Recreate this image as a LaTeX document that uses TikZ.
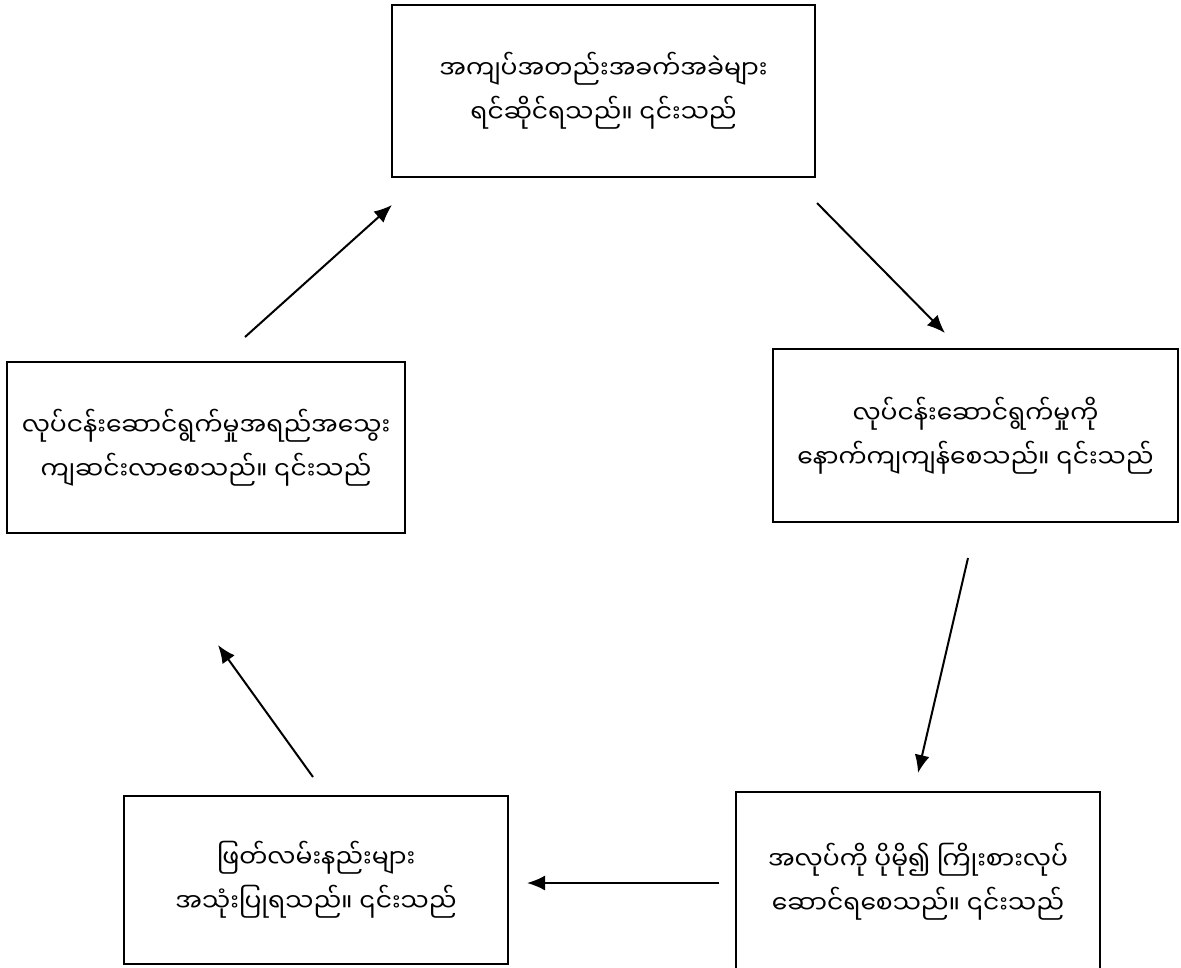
\documentclass[tikz,border=0pt]{standalone}
\usepackage{fontspec}
\newfontfamily\myanmarfont[Script=Myanmar]{Noto Sans Myanmar UI}
\usetikzlibrary{arrows.meta}

\begin{document}
\begin{tikzpicture}[x=1pt, y=-1pt,
    stagebox/.style={draw, rectangle, line width=1.5pt, inner sep=0pt, outer sep=0pt, align=center,
        font=\myanmarfont\fontsize{25}{44}\selectfont},
    flow/.style={line width=2pt, -{Latex[length=18pt, width=15pt]}}]
            \path[use as bounding box, fill=white] (0,0) rectangle (1181,967);
            \node[stagebox, minimum width=423pt, minimum height=172pt] (crisis) at (603.5,91) {အကျပ်အတည်းအခက်အခဲများ\\ရင်ဆိုင်ရသည်။ ၎င်းသည်};
            \node[stagebox, minimum width=405pt, minimum height=173pt] (delay) at (975.5,435.5) {လုပ်ငန်းဆောင်ရွက်မှုကို\\နောက်ကျကျန်စေသည်။ ၎င်းသည်};
            \node[stagebox, minimum width=364pt, minimum height=180pt] (overwork) at (918,882) {အလုပ်ကို ပိုမို၍ ကြိုးစားလုပ်\\ဆောင်ရစေသည်။ ၎င်းသည်};
            \node[stagebox, minimum width=384pt, minimum height=168pt] (shortcut) at (316,880) {ဖြတ်လမ်းနည်းများ\\အသုံးပြုရသည်။ ၎င်းသည်};
            \node[stagebox, minimum width=398pt, minimum height=171pt] (quality) at (206,447.5) {လုပ်ငန်းဆောင်ရွက်မှုအရည်အသွေး\\ကျဆင်းလာစေသည်။ ၎င်းသည်};
            \draw[flow] ([shift={(2,26)}]crisis.south east) -- ([shift={(-30.5,-16)}]delay.north);
            \draw[flow] ([shift={(-7.5,36)}]delay.south) -- ([shift={(0,-19)}]overwork.north);
            \draw[flow] ([shift={(-17,1)}]overwork.west) -- ([shift={(19,3)}]shortcut.east);
            \draw[flow] ([shift={(-3,-19)}]shortcut.north) -- ([shift={(12,112)}]quality.south);
            \draw[flow] ([shift={(39,-25)}]quality.north) -- ([shift={(0,28)}]crisis.south west);
        \end{tikzpicture}
\end{document}
